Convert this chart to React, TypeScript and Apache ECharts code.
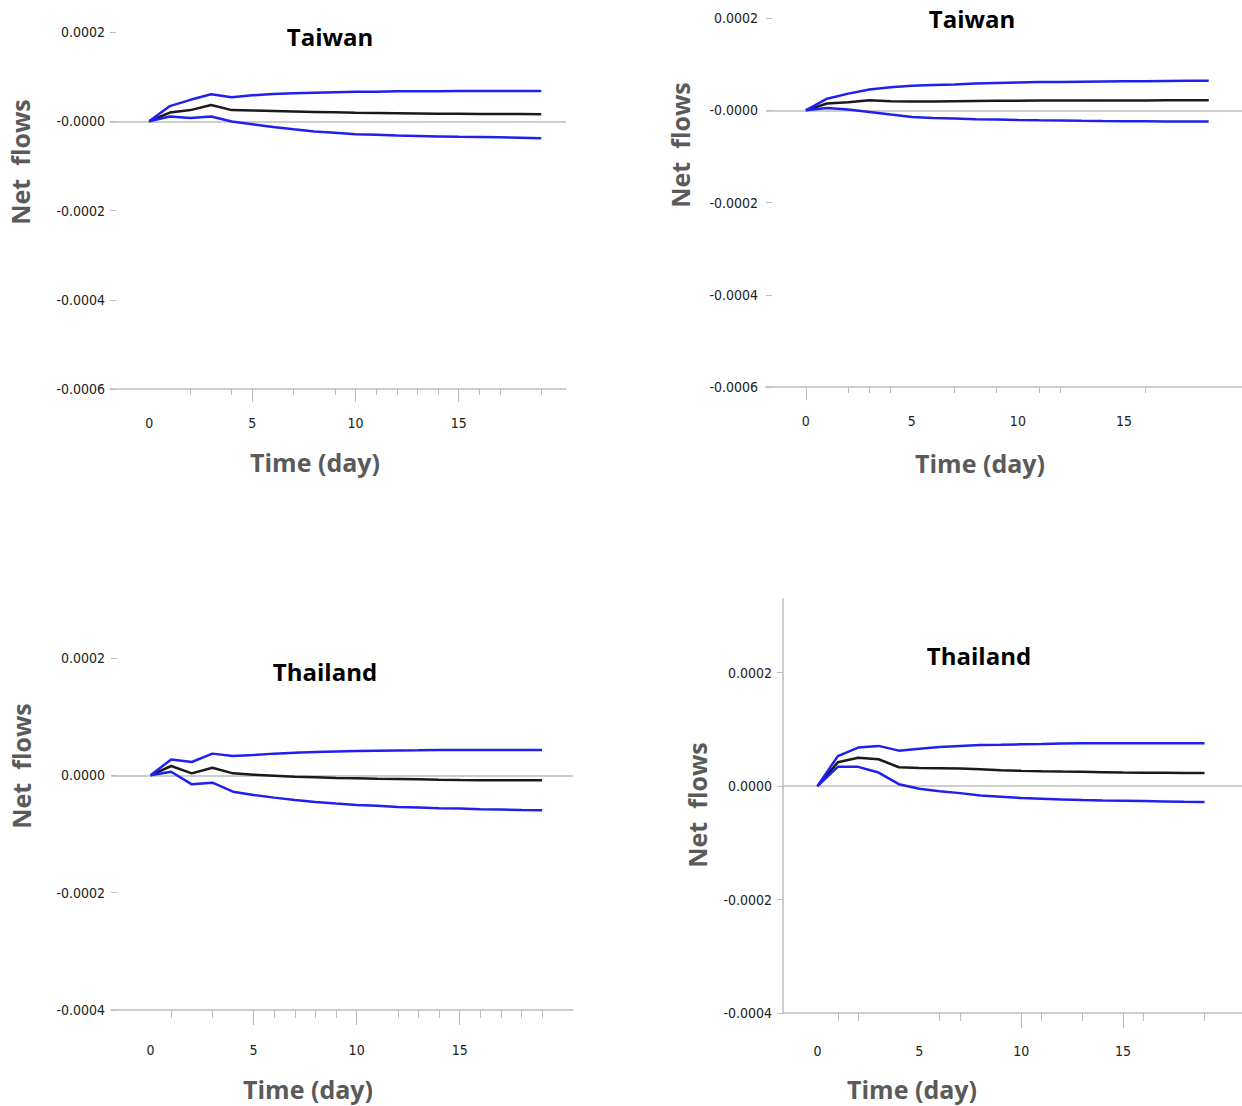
import React, { useEffect, useRef } from "react";
import * as echarts from "echarts";

// ---------------- data ----------------
const days = [0, 1, 2, 3, 4, 5, 6, 7, 8, 9, 10, 11, 12, 13, 14, 15, 16, 17, 18, 19];
const xTickLabels = [0, 5, 10, 15];

// Panel 1: Taiwan (left)
const tw1Upper = [0, 3.4e-5, 4.8e-5, 6.05e-5, 5.4e-5, 5.8e-5, 6.1e-5, 6.3e-5, 6.4e-5, 6.5e-5, 6.6e-5, 6.6e-5, 6.7e-5, 6.7e-5, 6.7e-5, 6.8e-5, 6.8e-5, 6.8e-5, 6.8e-5, 6.8e-5];
const tw1Mid = [0, 1.95e-5, 2.5e-5, 3.65e-5, 2.5e-5, 2.4e-5, 2.3e-5, 2.2e-5, 2.1e-5, 2.0e-5, 1.9e-5, 1.85e-5, 1.8e-5, 1.75e-5, 1.7e-5, 1.68e-5, 1.65e-5, 1.62e-5, 1.6e-5, 1.57e-5];
const tw1Lower = [0, 1.05e-5, 7.5e-6, 1.05e-5, -7e-7, -6.7e-6, -1.27e-5, -1.8e-5, -2.3e-5, -2.6e-5, -2.9e-5, -3.05e-5, -3.2e-5, -3.3e-5, -3.4e-5, -3.5e-5, -3.55e-5, -3.6e-5, -3.7e-5, -3.8e-5];

// Panel 2: Taiwan (right)
const tw2Upper = [0, 2.5e-5, 3.6e-5, 4.5e-5, 5.0e-5, 5.3e-5, 5.5e-5, 5.6e-5, 5.8e-5, 5.9e-5, 6.0e-5, 6.1e-5, 6.15e-5, 6.2e-5, 6.25e-5, 6.3e-5, 6.3e-5, 6.35e-5, 6.4e-5, 6.4e-5];
const tw2Mid = [0, 1.45e-5, 1.73e-5, 2.16e-5, 1.95e-5, 1.88e-5, 1.92e-5, 1.96e-5, 2.0e-5, 2.05e-5, 2.08e-5, 2.1e-5, 2.1e-5, 2.12e-5, 2.12e-5, 2.14e-5, 2.14e-5, 2.15e-5, 2.15e-5, 2.15e-5];
const tw2Lower = [0, 5e-6, 1.5e-6, -3.6e-6, -9.4e-6, -1.45e-5, -1.66e-5, -1.8e-5, -1.95e-5, -2.0e-5, -2.09e-5, -2.15e-5, -2.2e-5, -2.3e-5, -2.35e-5, -2.38e-5, -2.4e-5, -2.42e-5, -2.44e-5, -2.45e-5];

// Panel 3: Thailand (left)
const th1Upper = [0, 2.7e-5, 2.27e-5, 3.7e-5, 3.3e-5, 3.46e-5, 3.7e-5, 3.86e-5, 3.97e-5, 4.08e-5, 4.14e-5, 4.2e-5, 4.25e-5, 4.27e-5, 4.3e-5, 4.3e-5, 4.3e-5, 4.3e-5, 4.3e-5, 4.3e-5];
const th1Mid = [0, 1.59e-5, 3.4e-6, 1.3e-5, 3.4e-6, 1.1e-6, -6e-7, -2.3e-6, -3.4e-6, -4.5e-6, -5.1e-6, -5.7e-6, -6.2e-6, -6.8e-6, -7.4e-6, -7.9e-6, -8.2e-6, -8.5e-6, -8.5e-6, -8.5e-6];
const th1Lower = [0, 6.2e-6, -1.53e-5, -1.25e-5, -2.78e-5, -3.35e-5, -3.8e-5, -4.2e-5, -4.54e-5, -4.8e-5, -5.05e-5, -5.2e-5, -5.4e-5, -5.5e-5, -5.6e-5, -5.67e-5, -5.78e-5, -5.84e-5, -5.9e-5, -5.95e-5];

// Panel 4: Thailand (right)
const th2Upper = [0, 5.3e-5, 6.8e-5, 7.1e-5, 6.26e-5, 6.6e-5, 6.9e-5, 7.1e-5, 7.25e-5, 7.3e-5, 7.37e-5, 7.43e-5, 7.5e-5, 7.55e-5, 7.55e-5, 7.55e-5, 7.55e-5, 7.55e-5, 7.55e-5, 7.55e-5];
const th2Mid = [0, 4.2e-5, 5.0e-5, 4.74e-5, 3.33e-5, 3.2e-5, 3.16e-5, 3.1e-5, 2.98e-5, 2.8e-5, 2.7e-5, 2.63e-5, 2.57e-5, 2.52e-5, 2.46e-5, 2.4e-5, 2.38e-5, 2.36e-5, 2.34e-5, 2.34e-5];
const th2Lower = [0, 3.4e-5, 3.4e-5, 2.4e-5, 3.5e-6, -4.7e-6, -8.8e-6, -1.23e-5, -1.64e-5, -1.87e-5, -2.1e-5, -2.22e-5, -2.34e-5, -2.46e-5, -2.52e-5, -2.57e-5, -2.63e-5, -2.69e-5, -2.75e-5, -2.8e-5];

// y tick values and labels
const yTicksA = [-0.0006, -0.0004, -0.0002, 0, 0.0002];
const yTickLabelsA = ["-0.0006", "-0.0004", "-0.0002", "-0.0000", "0.0002"];
const yTicksB = [-0.0004, -0.0002, 0, 0.0002];
const yTickLabelsB = ["-0.0004", "-0.0002", "0.0000", "0.0002"];

// x axis tick positions (as they appear)
const p1LongTicks = [5, 10, 15];
const p1ShortTicks = [2, 4, 7, 9, 11, 12, 13, 14, 16, 17, 19];
const p2LongTicks = [0];
const p2ShortTicks = [2, 3, 4, 7, 9, 11, 12, 16];
const p3LongTicks = [5, 10, 15];
const p3ShortTicks = [1, 3, 6, 7, 8, 9, 12, 13, 14, 16, 17, 18, 19];
const p4LongTicks = [10, 15];
const p4ShortTicks = [1, 2, 6, 7, 11, 13, 16, 19];

const titles = ["Taiwan", "Taiwan", "Thailand", "Thailand"];
const yName = "Net  flows";
const xName = "Time (day)";

// ---------------- layout ----------------
const panels = [
  {
    title: titles[0], upper: tw1Upper, mid: tw1Mid, lower: tw1Lower,
    yTicks: yTicksA, yLabels: yTickLabelsA, longTicks: p1LongTicks, shortTicks: p1ShortTicks,
    grid: { left: 110, top: 32, width: 456, height: 357 },
    xMin: -1.9, xMax: 20.2, yMin: -0.0006, yMax: 0.0002,
    yLine: false, yTickInside: true, yLabelMargin: 5, xLabelMargin: 27, longLen: 13, shortLen: 6,
    titlePos: [330, 36], yNamePos: [20, 162], xNamePos: [315, 462],
  },
  {
    title: titles[1], upper: tw2Upper, mid: tw2Mid, lower: tw2Lower,
    yTicks: yTicksA, yLabels: yTickLabelsA, longTicks: p2LongTicks, shortTicks: p2ShortTicks,
    grid: { left: 766, top: 18, width: 476, height: 369 },
    xMin: -1.88, xMax: 20.57, yMin: -0.0006, yMax: 0.0002,
    yLine: false, yTickInside: true, yLabelMargin: 8, xLabelMargin: 27, longLen: 13, shortLen: 6,
    titlePos: [972, 18], yNamePos: [680, 145], xNamePos: [980, 463],
  },
  {
    title: titles[2], upper: th1Upper, mid: th1Mid, lower: th1Lower,
    yTicks: yTicksB, yLabels: yTickLabelsB, longTicks: p3LongTicks, shortTicks: p3ShortTicks,
    grid: { left: 111, top: 658, width: 462, height: 352 },
    xMin: -1.92, xMax: 20.5, yMin: -0.0004, yMax: 0.0002,
    yLine: false, yTickInside: true, yLabelMargin: 6, xLabelMargin: 33, longLen: 15, shortLen: 8,
    titlePos: [325, 671], yNamePos: [21, 766], xNamePos: [308, 1089],
  },
  {
    title: titles[3], upper: th2Upper, mid: th2Mid, lower: th2Lower,
    yTicks: yTicksB, yLabels: yTickLabelsB, longTicks: p4LongTicks, shortTicks: p4ShortTicks,
    grid: { left: 783, top: 599, width: 459, height: 414 },
    xMin: -1.69, xMax: 20.84, yMin: -0.0004, yMax: 0.00033,
    yLine: true, yTickInside: false, yLabelMargin: 11, xLabelMargin: 31, longLen: 15, shortLen: 8,
    titlePos: [979, 655], yNamePos: [697, 805], xNamePos: [912, 1089],
  },
];

const AXIS_GRAY = "#bdbdbd";
const TICK_FONT = "'Liberation Sans Narrow', 'DejaVu Sans Condensed', 'Roboto', sans-serif";
const TITLE_FONT = "'Open Sans', 'Noto Sans', sans-serif";
const BLUE = "#2020ee";
const BLACK = "#1a1a1a";

function buildOption() {
  const grids: any[] = [];
  const xAxes: any[] = [];
  const yAxes: any[] = [];
  const series: any[] = [];
  const graphics: any[] = [];

  panels.forEach((p, i) => {
    grids.push({ ...p.grid, containLabel: false });
    xAxes.push({
      gridIndex: i, type: "value", position: "bottom", min: p.xMin, max: p.xMax,
      axisLine: { show: true, onZero: false, lineStyle: { color: AXIS_GRAY, width: 1.5 } },
      axisTick: { show: true, customValues: p.longTicks, length: p.longLen, lineStyle: { color: AXIS_GRAY, width: 1 } },
      axisLabel: {
        show: true, customValues: xTickLabels, margin: p.xLabelMargin,
        fontFamily: TICK_FONT, fontSize: 14, color: "#222",
        formatter: (v: number) => String(Math.round(v)),
      },
      splitLine: { show: false },
    });
    xAxes.push({
      gridIndex: i, type: "value", position: "bottom", min: p.xMin, max: p.xMax,
      axisLine: { show: false, onZero: false },
      axisTick: { show: true, customValues: p.shortTicks, length: p.shortLen, lineStyle: { color: AXIS_GRAY, width: 1 } },
      axisLabel: { show: false },
      splitLine: { show: false },
    });
    yAxes.push({
      gridIndex: i, type: "value", min: p.yMin, max: p.yMax,
      axisLine: { show: p.yLine, onZero: false, lineStyle: { color: AXIS_GRAY, width: 1.5 } },
      axisTick: { show: true, inside: p.yTickInside, length: 6, customValues: p.yTicks, lineStyle: { color: AXIS_GRAY } },
      axisLabel: {
        show: true, customValues: p.yTicks, margin: p.yLabelMargin,
        fontFamily: TICK_FONT, fontSize: 14, color: "#222",
        formatter: (v: number) => {
          const idx = p.yTicks.findIndex((t) => Math.abs(t - v) < 1e-9);
          return idx >= 0 ? p.yLabels[idx] : "";
        },
      },
      splitLine: { show: false },
    });

    const mk = (vals: number[], color: string, withZero: boolean) => ({
      type: "line",
      xAxisIndex: 2 * i,
      yAxisIndex: i,
      data: days.map((d, k) => [d, vals[k]]),
      showSymbol: false,
      symbol: "none",
      lineStyle: { color, width: 2.5 },
      z: 3,
      silent: true,
      markLine: withZero
        ? {
            silent: true, z: 1, symbol: ["none", "none"], label: { show: false },
            lineStyle: { color: AXIS_GRAY, width: 1.5, type: "solid" },
            data: [{ yAxis: 0 }],
          }
        : undefined,
    });
    series.push(mk(p.mid, BLACK, true));
    series.push(mk(p.upper, BLUE, false));
    series.push(mk(p.lower, BLUE, false));

    graphics.push({
      type: "text", x: p.titlePos[0], y: p.titlePos[1],
      style: { text: p.title, fill: "#000", fontFamily: TITLE_FONT, fontWeight: "bold", fontSize: 24, align: "center", verticalAlign: "middle" },
    });
    graphics.push({
      type: "text", x: p.yNamePos[0], y: p.yNamePos[1], rotation: Math.PI / 2,
      style: { text: yName, fill: "#5a5a5a", fontFamily: TITLE_FONT, fontWeight: "bold", fontSize: 25, align: "center", verticalAlign: "middle" },
    });
    graphics.push({
      type: "text", x: p.xNamePos[0], y: p.xNamePos[1],
      style: { text: xName, fill: "#5a5a5a", fontFamily: TITLE_FONT, fontWeight: "bold", fontSize: 25, align: "center", verticalAlign: "middle" },
    });
  });

  return {
    animation: false,
    backgroundColor: "#ffffff",
    grid: grids,
    xAxis: xAxes,
    yAxis: yAxes,
    series,
    graphic: graphics,
  };
}

export default function App() {
  const ref = useRef<HTMLDivElement>(null);
  useEffect(() => {
    if (!ref.current) return;
    const chart = echarts.init(ref.current, undefined, { renderer: "svg" });
    chart.setOption(buildOption() as any);
    return () => chart.dispose();
  }, []);
  return (
    <div
      ref={ref}
      style={{ position: "fixed", left: 0, top: 0, width: 1242, height: 1106, background: "#fff" }}
    />
  );
}
